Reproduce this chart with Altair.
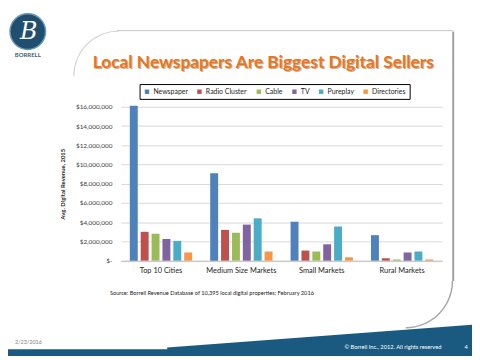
import altair as alt
import pandas as pd

categories = ["Top 10 Cities", "Medium Size Markets", "Small Markets", "Rural Markets"]
series = ["Newspaper", "Radio Cluster", "Cable", "TV", "Pureplay", "Directories"]
colors = ["#4F81BD", "#C0504D", "#9BBB59", "#8064A2", "#4BACC6", "#F79646"]

newspaper = [16.1e6, 9.1e6, 4.05e6, 2.65e6]
radio_cluster = [3.0e6, 3.2e6, 1.05e6, 0.25e6]
cable = [2.8e6, 2.9e6, 0.95e6, 0.12e6]
tv = [2.25e6, 3.75e6, 1.7e6, 0.85e6]
pureplay = [2.05e6, 4.4e6, 3.55e6, 0.95e6]
directories = [0.85e6, 0.95e6, 0.35e6, 0.12e6]

y_ticks = [0, 2e6, 4e6, 6e6, 8e6, 10e6, 12e6, 14e6, 16e6]

title_text = "Local Newspapers Are Biggest Digital Sellers"
source_text = "Source:  Borrell  Revenue Database of  10,395 local digital properties;  February 2016"
date_text = "2/23/2016"
copyright_text = "© Borrell  Inc., 2012.  All rights reserved"
page_text = "4"

rows = []
for s, vals in zip(series, [newspaper, radio_cluster, cable, tv, pureplay, directories]):
    for c, v in zip(categories, vals):
        rows.append({"Market": c, "Source": s, "Revenue": v})
df = pd.DataFrame(rows)

FONT = "Lato"
one = alt.Data(values=[{}])

bars = alt.Chart(df).mark_bar(clip=False).encode(
    x=alt.X("Market:N", sort=categories, title=None,
            scale=alt.Scale(paddingInner=0, paddingOuter=0),
            axis=alt.Axis(labelAngle=0, ticks=False, domainColor="#bfbfbf",
                          labelFont=FONT, labelFontSize=7.5, labelColor="#262626",
                          labelPadding=6)),
    xOffset=alt.XOffset("Source:N", sort=series,
                        scale=alt.Scale(paddingInner=0.27, paddingOuter=0.83)),
    y=alt.Y("Revenue:Q", title="Avg. Digital Revenue, 2015",
            scale=alt.Scale(domain=[0, 16e6], nice=False),
            axis=alt.Axis(values=y_ticks, ticks=False, domain=False,
                          labelExpr="datum.value == 0 ? '$-' : '$' + format(datum.value, ',')",
                          labelFont=FONT, labelFontSize=6.5, labelColor="#404040",
                          labelPadding=9, gridColor="#d9d9d9",
                          titleFont=FONT, titleFontSize=6, titleFontWeight="bold",
                          titleColor="#262626", titlePadding=10)),
    color=alt.Color("Source:N", scale=alt.Scale(domain=series, range=colors),
                    legend=alt.Legend(title=None, orient="none", direction="horizontal",
                                      legendX=19, legendY=-23,
                                      symbolType="square", symbolSize=20,
                                      symbolStrokeWidth=0, labelFont=FONT,
                                      labelFontSize=7, labelColor="#262626",
                                      columnPadding=8, labelOffset=3,
                                      padding=4, strokeColor="#000000",
                                      fillColor="#ffffff")),
)

# decorations (pixel positions relative to plot origin at page (122,106))
def px(X):
    return alt.value(X - 122)

def py(Y):
    return alt.value(Y - 106)

BAND = "#1b5a80"

top_line = alt.Chart(one).mark_rule(color="#c8c8c8", strokeWidth=1).encode(
    x=px(118), x2=px(458), y=py(29))
right_line = alt.Chart(one).mark_rule(color="#a0a0a0", strokeWidth=2).encode(
    x=px(458), y=py(30), y2=py(282))
tl_arc = alt.Chart(one).mark_arc(color="#d0d0d0", radius=46, radius2=45,
                                 theta=4.712, theta2=6.283).encode(x=px(120), y=py(75))
br_arc = alt.Chart(one).mark_arc(color="#a8a8a8", radius=48, radius2=46.5,
                                 theta=1.5708, theta2=3.1416).encode(x=px(410), y=py(282))

band_slant = alt.Chart(one).mark_rule(color=BAND, strokeWidth=30).encode(
    x=px(170), x2=px(500), y=py(364.2), y2=py(339.5))
band_rect = alt.Chart(one).mark_rect(color=BAND).encode(
    x=px(-10), x2=px(490), y=py(351), y2=py(370))

logo = alt.Chart(one).mark_point(shape="circle", filled=True, size=1296,
                                 color="#1f4e6e", opacity=1,
                                 stroke="#6e98b8", strokeWidth=1.5).encode(
    x=px(28), y=py(30))
logo_b = alt.Chart(one).mark_text(text="B", font="DejaVu Serif", fontStyle="italic",
                                  fontSize=24, color="#ffffff",
                                  baseline="middle", align="center").encode(
    x=px(29), y=py(30))
logo_name = alt.Chart(one).mark_text(text="BORRELL", font=FONT, fontSize=6,
                                     fontWeight="bold", color="#3b5c75",
                                     baseline="middle", align="center").encode(
    x=px(28), y=py(54))

title_shadow = alt.Chart(one).mark_text(text=title_text, font=FONT, fontSize=17.5,
                                        fontWeight="bold", color="#9c4f10", opacity=0.45,
                                        baseline="middle", align="center").encode(
    x=px(267), y=py(63))
title = alt.Chart(one).mark_text(text=title_text, font=FONT, fontSize=17.5,
                                 fontWeight="bold", color="#E8761E",
                                 baseline="middle", align="center").encode(
    x=px(266), y=py(62))

source = alt.Chart(one).mark_text(text=source_text, font=FONT, fontSize=5.7,
                                  color="#1a1a1a", baseline="middle", align="left").encode(
    x=px(111), y=py(294))
date = alt.Chart(one).mark_text(text=date_text, font=FONT, fontSize=5.5,
                                color="#7f7f7f", baseline="middle", align="left").encode(
    x=px(15), y=py(344))
copyright = alt.Chart(one).mark_text(text=copyright_text, font=FONT, fontSize=5.8,
                                     color="#ffffff", baseline="middle", align="left").encode(
    x=px(348), y=py(349))
page = alt.Chart(one).mark_text(text=page_text, font=FONT, fontSize=5.8,
                                color="#ffffff", baseline="middle", align="center").encode(
    x=px(471), y=py(349))

chart = alt.layer(
    band_slant, band_rect, top_line, right_line, tl_arc, br_arc,
    bars,
    logo, logo_b, logo_name, title_shadow, title, source, date, copyright, page,
).properties(
    width=325, height=155.5,
    padding={"left": 114, "top": 98, "right": 30, "bottom": 94},
    autosize=alt.AutoSizeParams(type="none"),
    background="#ffffff",
).configure_view(stroke=None)

chart.save("out.html", embed_options={"renderer": "svg", "actions": False})
